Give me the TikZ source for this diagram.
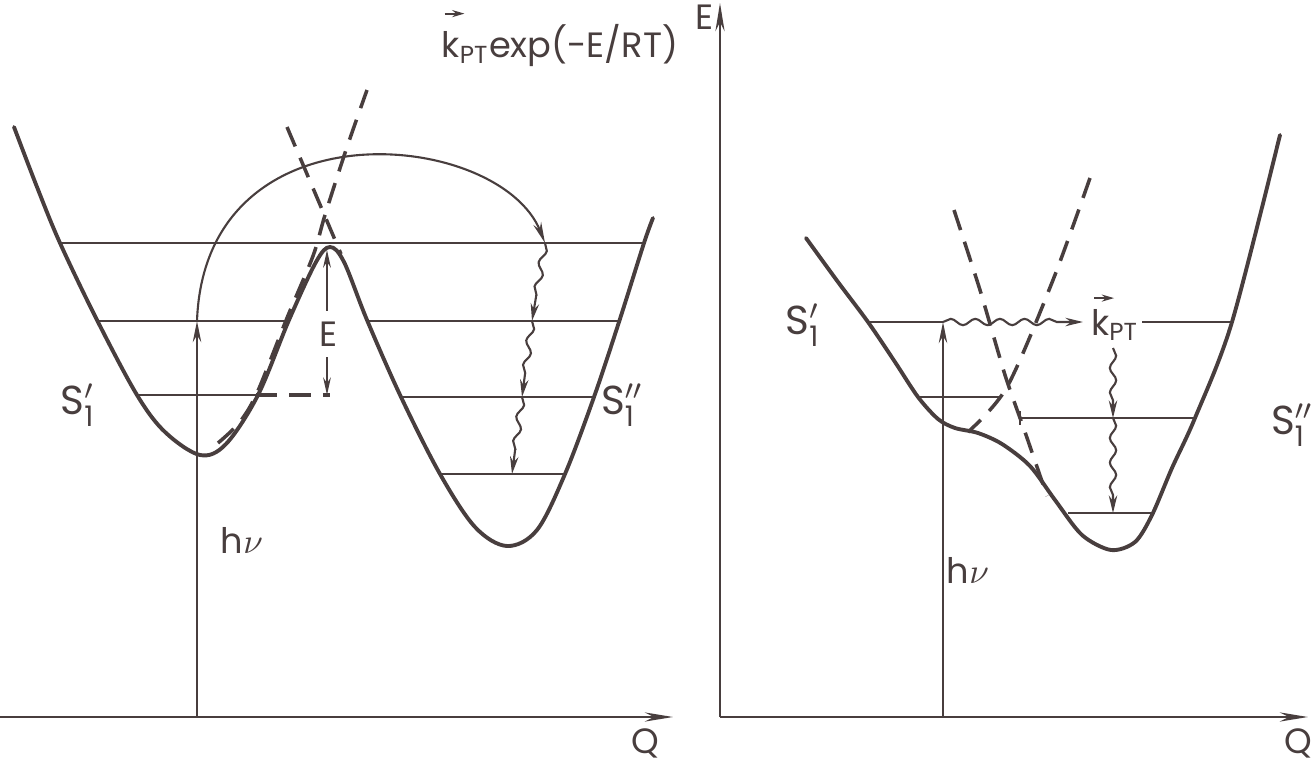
\documentclass[tikz,border=0pt]{standalone}
\usepackage{fontspec}
\usepackage{amsmath}
\setmainfont{Poppins}
\usetikzlibrary{arrows.meta,decorations.pathmorphing}
\definecolor{ink}{RGB}{72,62,62}
\begin{document}
\begin{tikzpicture}[x=0.01cm,y=-0.01cm,
  curve/.style={draw=ink,line width=1.1pt,line join=round,line cap=round},
  lvl/.style={draw=ink,line width=0.8pt},
  dsh/.style={draw=ink,line width=1pt,dash pattern=on 6pt off 3.5pt},
  axis/.style={draw=ink,line width=0.8pt,-{Stealth[length=8pt,width=2.6pt]}},
  arr/.style={draw=ink,line width=0.6pt,-{Stealth[length=6pt,width=2.4pt]}},
  karr/.style={draw=ink,line width=0.6pt,-{Stealth[length=3.5pt,width=2pt]}},
  darr/.style={draw=ink,line width=0.6pt,{Stealth[length=5pt,width=2.2pt]}-{Stealth[length=5pt,width=2.2pt]}},
  wav/.style={draw=ink,line width=0.6pt,decorate,decoration={snake,amplitude=0.9pt,segment length=7pt,post length=5pt},-{Stealth[length=5pt,width=2.4pt]}},
  lab/.style={text=ink,inner sep=0pt,font=\fontsize{10}{12}\selectfont},
  slab/.style={text=ink,inner sep=0pt,font=\fontsize{11.5}{13}\selectfont}]
\useasboundingbox (0,0) rectangle (1311,766);

% ---------------- left panel ----------------
\coordinate (LO) at (0,717);
\coordinate (LQ) at (673,717);
\draw[axis] (LO) -- (LQ);
\node[lab] (Qa) at (645,743) {Q};

% double well
\draw[curve] plot[smooth,tension=0.55] coordinates {
 (14,127) (37,187) (60,243) (97,320) (137,395) (165,432) (200,455) (226,444)
 (258,395) (289,320) (316,262) (330,247) (344,262) (367,320) (401,397) (440,474)
 (475,527) (507,546) (537,530) (565,474) (594,397) (619,322) (644,243) (653,218)};

% levels
\coordinate (L1a) at (60,243);  \coordinate (L1b) at (646,243);
\coordinate (L2a) at (97,321);  \coordinate (L2b) at (289,321);
\coordinate (L2c) at (367,321); \coordinate (L2d) at (619,321);
\coordinate (L3a) at (137,395); \coordinate (L3b) at (256,395); \coordinate (L3c) at (330,395);
\coordinate (L3d) at (401,397); \coordinate (L3e) at (594,397);
\coordinate (L4a) at (440,474); \coordinate (L4b) at (565,474);
\draw[lvl] (L1a) -- (L1b);
\draw[lvl] (L2a) -- (L2b);
\draw[lvl] (L2c) -- (L2d);
\draw[lvl] (L3a) -- (L3b);
\draw[dsh] (L3b) -- (L3c);
\draw[lvl] (L3d) -- (L3e);
\draw[lvl] (L4a) -- (L4b);

% diabatic dashed curves
\draw[dsh] plot[smooth,tension=0.5] coordinates {(218,443) (239,423) (257,393) (287,318) (313,256) (325,215) (346,150) (367,90)};
\coordinate (D2a) at (287,127); \coordinate (D2b) at (341,254);
\draw[dsh] (D2a) -- (D2b);

% h nu arrow and activated path arc
\coordinate (H1b) at (197,717); \coordinate (H1t) at (197,321);
\draw[arr] (H1b) -- (H1t);
\node[lab] (hv1) at (242,540) {h$\nu$};
\coordinate (A1) at (545,243);
\draw[arr] (H1t) .. controls (205,100) and (500,130) .. (A1);

% E barrier arrow
\coordinate (Et) at (327,250); \coordinate (Eb) at (327,395);
\draw[darr] (Et) -- (Eb);
\node[lab,fill=white,inner sep=3pt] (Elab) at (329,334) {E};

% relaxation cascade
\coordinate (W1) at (532,321); \coordinate (W2) at (522,397); \coordinate (W3) at (512,474);
\draw[wav] (A1) -- (W1);
\draw[wav] (W1) -- (W2);
\draw[wav] (W2) -- (W3);

\node[lab,anchor=west] (kexp) at (441,46) {k\textsubscript{PT}exp(-E/RT)};
\draw[karr] ([xshift=1pt,yshift=3pt]kexp.north west) -- ++(20,0);
\node[slab] (S1a) at (78,405) {S$^{\prime}_{\text{1}}$};
\node[slab] (S1b) at (622,405) {S$^{\prime\prime}_{\text{1}}$};

% ---------------- right panel ----------------
\coordinate (RO) at (720,717);
\coordinate (RQ) at (1308,717);
\coordinate (RE) at (720,3);
\draw[axis] (RO) -- (RQ);
\draw[axis] (RO) -- (RE);
\node[lab] (Qb) at (1298,743) {Q};
\node[lab] (Eax) at (705,17) {E};

\draw[curve] plot[smooth,tension=0.5] coordinates {
 (806,238) (838,282) (868,322) (895,362) (918,397) (938,419) (955,428) (978,433)
 (1002,444) (1030,466) (1055,500) (1082,535) (1111,550) (1135,542) (1152,515)
 (1172,468) (1195,418) (1232,322) (1280,135)};

\coordinate (R1a) at (868,322); \coordinate (R1b) at (943,322);
\coordinate (R1c) at (1083,322); \coordinate (R1d) at (1142,322); \coordinate (R1e) at (1232,322);
\coordinate (R2a) at (918,397); \coordinate (R2b) at (1000,397);
\coordinate (R3a) at (1020,418); \coordinate (R3b) at (1195,418);
\coordinate (R4a) at (1068,513); \coordinate (R4b) at (1152,513);
\draw[lvl] (R1a) -- (R1b);
\draw[lvl] (R1d) -- (R1e);
\draw[lvl] (R2a) -- (R2b);
\draw[lvl] (R3a) -- (R3b);
\draw[lvl] (1020,411) -- (1020,425);
\draw[lvl] (R4a) -- (R4b);

% diabatic dashed
\draw[dsh] plot[smooth,tension=0.4] coordinates {(954,210) (980,290) (1005,375) (1025,432) (1047,496)};
\draw[dsh] plot[smooth,tension=0.5] coordinates {(1090,178) (1053,280) (1007,387) (968,432)};

% h nu and transfer
\coordinate (H2b) at (943,717);
\draw[arr] (H2b) -- (R1b);
\node[lab] (hv2) at (968,570) {h$\nu$};
\draw[wav] (R1b) -- (R1c);
\node[lab] (kpt) at (1115,325) {k\textsubscript{PT}};
\draw[karr] ([xshift=1pt,yshift=3pt]kpt.north west) -- ++(20,0);
\coordinate (V0) at (1113,348);
\coordinate (V1) at (1113,418);
\coordinate (V2) at (1113,513);
\draw[wav] (V0) -- (V1);
\draw[wav] (V1) -- (V2);

\node[slab] (S2a) at (803,325) {S$^{\prime}_{\text{1}}$};
\node[slab] (S2b) at (1292,425) {S$^{\prime\prime}_{\text{1}}$};
\end{tikzpicture}
\end{document}
